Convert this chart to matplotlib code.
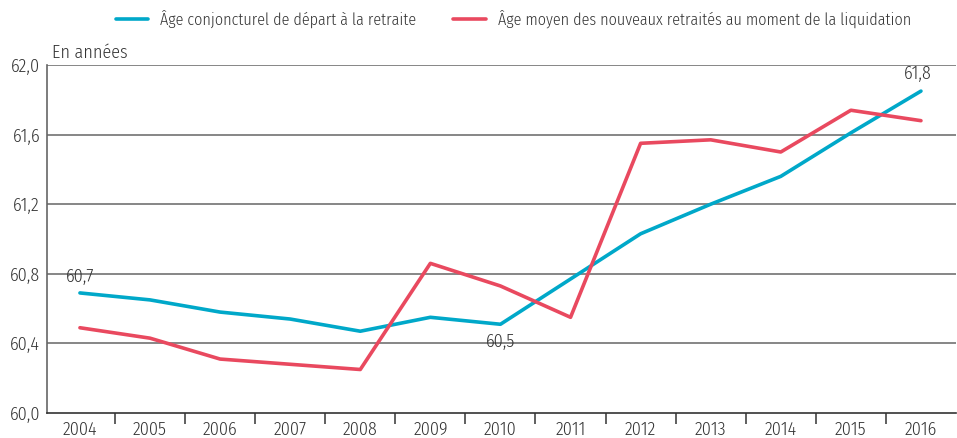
import numpy as np
import matplotlib.pyplot as plt

years = [2004, 2005, 2006, 2007, 2008, 2009, 2010, 2011, 2012, 2013, 2014, 2015, 2016]
age_conj = [60.69, 60.65, 60.58, 60.54, 60.47, 60.55, 60.51, 60.77, 61.03, 61.20, 61.36, 61.61, 61.85]
age_liq = [60.49, 60.43, 60.31, 60.28, 60.25, 60.86, 60.73, 60.55, 61.55, 61.57, 61.50, 61.74, 61.68]
labels = ["Âge conjoncturel de départ à la retraite",
          "Âge moyen des nouveaux retraités au moment de la liquidation"]
yticks = [60.0, 60.4, 60.8, 61.2, 61.6, 62.0]

plt.rcParams["font.family"] = ["Fira Sans Condensed", "DejaVu Sans"]
plt.rcParams["font.weight"] = 300
plt.rcParams["font.size"] = 13
txt = "#333333"

fig = plt.figure(figsize=(9.57, 4.38), dpi=100)
ax = fig.add_axes([47 / 957, 25 / 438, 909 / 957, 348 / 438])

x = np.arange(len(years))
ax.plot(x, age_conj, color="#00A8C9", lw=2.6, label=labels[0], solid_capstyle="round")
ax.plot(x, age_liq, color="#E9495F", lw=2.6, label=labels[1], solid_capstyle="round")

ax.set_xlim(-0.47, len(years) - 0.5)
ax.set_ylim(60.0, 62.0)
ax.set_yticks(yticks)
ax.set_yticklabels([f"{v:.1f}".replace(".", ",") for v in yticks], color=txt)
ax.tick_params(axis="y", length=0, pad=5)
for v in yticks[1:]:
    ax.axhline(v, color="#666666", lw=1.1, zorder=0)

ax.set_xticks(x)
ax.set_xticklabels([str(y) for y in years], color=txt)
ax.tick_params(axis="x", length=0, pad=6)
ax.set_xticks(np.arange(0.5, len(years) - 0.5, 1), minor=True)
ax.tick_params(axis="x", which="minor", length=8, width=1.2, color="#444444", direction="out")

for s in ["top", "right"]:
    ax.spines[s].set_visible(False)
ax.spines["left"].set_color("#666666")
ax.spines["left"].set_linewidth(1.2)
ax.spines["bottom"].set_color("#333333")
ax.spines["bottom"].set_linewidth(1.2)

ax.text(0.006, 1.01, "En années", transform=ax.transAxes, ha="left", va="bottom", color=txt)

ax.annotate("60,7", (0, age_conj[0]), xytext=(0, 5), textcoords="offset points",
            ha="center", va="bottom", color=txt)
ax.annotate("60,5", (6, age_conj[6]), xytext=(0, -6), textcoords="offset points",
            ha="center", va="top", color=txt)
ax.annotate("61,8", (12, age_conj[12]), xytext=(-2, 6), textcoords="offset points",
            ha="center", va="bottom", color=txt)

fig.legend(loc="upper left", bbox_to_anchor=(116 / 957, 1 - 10 / 438), ncol=2, frameon=False,
           borderaxespad=0, borderpad=0, fontsize=11.6,
           handlelength=2.0, handletextpad=0.75, columnspacing=2.3, labelcolor=txt)

fig.savefig("out.png", dpi=100)
